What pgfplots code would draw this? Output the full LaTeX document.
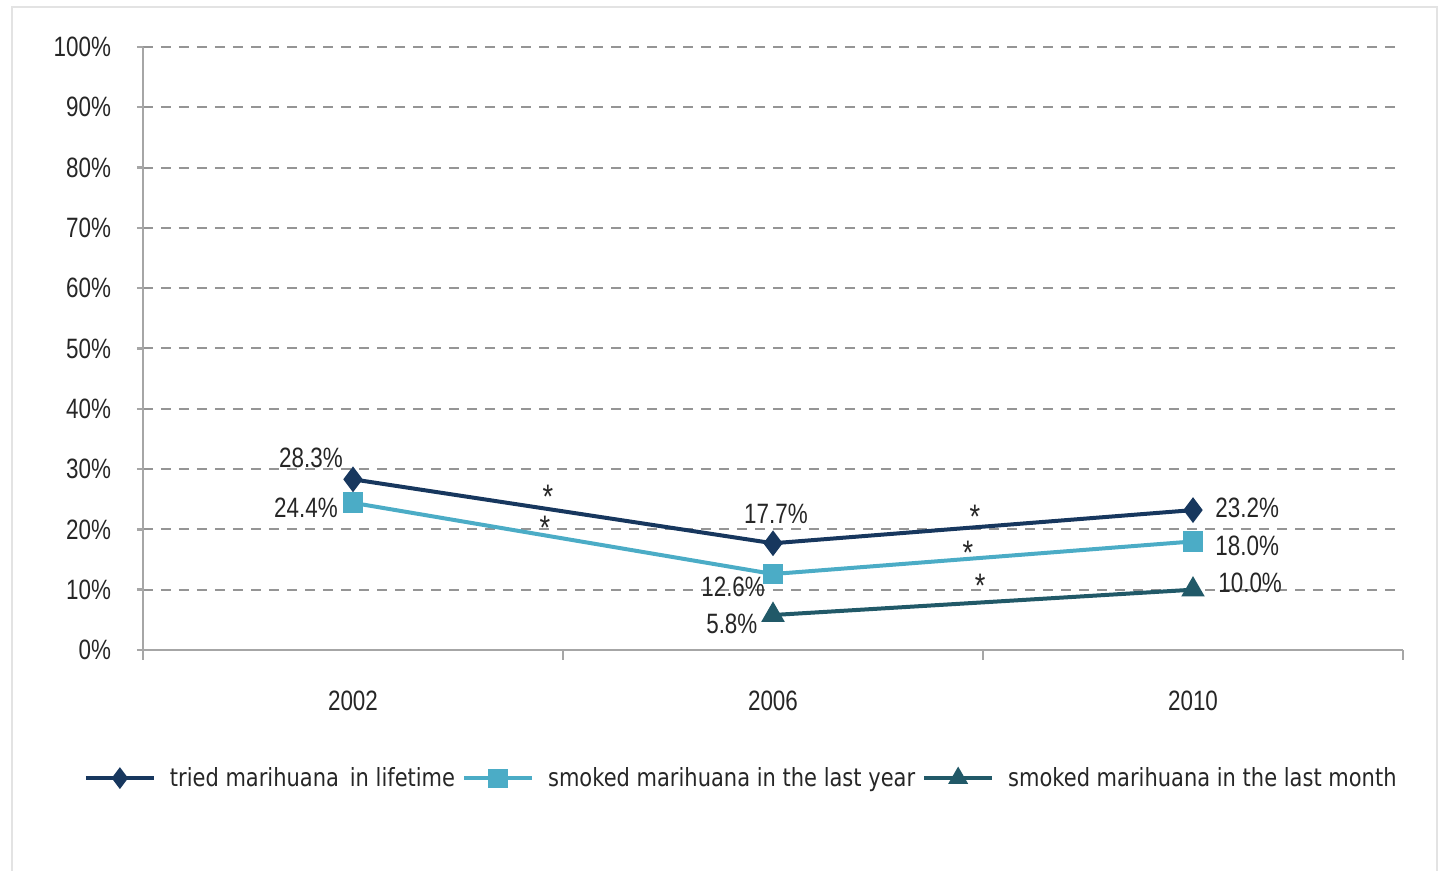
\documentclass[border=0pt]{standalone}
\usepackage{pgfplots}
\pgfplotsset{compat=1.18}
\usepackage{fontspec}
\setmainfont[FakeStretch=0.8]{Liberation Sans}
\newfontfamily\legfont[FakeStretch=0.84]{DejaVu Sans}
\definecolor{cA}{HTML}{17375E}
\definecolor{cB}{HTML}{4BACC6}
\definecolor{cC}{HTML}{215968}
\definecolor{gridc}{HTML}{959595}
\definecolor{axc}{HTML}{A6A6A6}
\definecolor{txt}{HTML}{262626}
\begin{document}
\begin{tikzpicture}
\begin{axis}[
  scale only axis, width=630pt, height=301.5pt,
  xmin=-0.5, xmax=2.5, ymin=0, ymax=100,
  axis x line*=bottom, axis y line*=left,
  axis line style={-, axc, line width=1.2pt},
  xtick={0,1,2}, xticklabels={2002,2006,2010},
  minor xtick={-0.5,0.5,1.5,2.5},
  ytick={0,10,...,100},
  yticklabels={0\%,10\%,20\%,30\%,40\%,50\%,60\%,70\%,80\%,90\%,100\%},
  tick align=outside,
  major tick length=3pt, minor tick length=5pt,
  tick style={axc, line width=1.2pt},
  major x tick style={draw=none},
  ymajorgrids, xmajorgrids=false,
  grid style={gridc, dash pattern=on 5pt off 4pt, line width=1pt},
  ticklabel style={font=\fontsize{14}{16}\selectfont, text=txt},
  yticklabel style={xshift=-9.5pt},
  xticklabel style={yshift=-14pt},
  legend style={at={(0.474,-0.2125)}, anchor=center, draw=none, fill=none,
    legend columns=3, font=\legfont\fontsize{12.5}{14}\selectfont, text=txt,
    nodes={inner xsep=0pt},
    /tikz/every even column/.append style={column sep=3.5pt},
    /tikz/every odd column/.append style={column sep=7pt}},
  legend cell align=left,
  legend image code/.code={\draw[mark repeat=2,mark phase=2,mark size=3.8pt] plot coordinates {(0pt,0pt) (17pt,0pt) (34pt,0pt)};},
  clip=false,
]
\addplot[cA, line width=2pt, mark=diamond*, mark size=4.8pt, mark options={solid}] coordinates {(0,28.3) (1,17.7) (2,23.2)};
\addlegendentry{tried marihuana\, in lifetime}
\addplot[cB, line width=2pt, mark=square*, mark size=4.2pt, mark options={solid}] coordinates {(0,24.4) (1,12.6) (2,18.0)};
\addlegendentry{smoked marihuana in the last year}
\addplot[cC, line width=2pt, mark=triangle*, mark size=4.8pt, mark options={solid}] coordinates {(1,5.8) (2,10.0)};
\addlegendentry{smoked marihuana in the last month}
\coordinate (O) at (rel axis cs:0,0);
\begin{scope}[every node/.style={font=\fontsize{14}{16}\selectfont, text=txt, inner sep=0pt}]
\node at (axis cs:-0.100,31.84) {28.3\%};
\node at (axis cs:-0.112,23.55) {24.4\%};
\node at (axis cs:1.007,22.55) {17.7\%};
\node at (axis cs:0.905,10.45) {12.6\%};
\node at (axis cs:0.902,4.31) {5.8\%};
\node at (axis cs:2.129,23.55) {23.2\%};
\node at (axis cs:2.129,17.25) {18.0\%};
\node at (axis cs:2.136,11.11) {10.0\%};
\end{scope}
\begin{scope}[every node/.style={font=\fontsize{17}{18}\selectfont, text=txt, inner sep=0pt}]
\node at (axis cs:0.464,25.4) {*};
\node at (axis cs:0.457,20.2) {*};
\node at (axis cs:1.481,22.1) {*};
\node at (axis cs:1.464,16.2) {*};
\node at (axis cs:1.493,10.6) {*};
\end{scope}
\end{axis}
\pgfresetboundingbox
\path[use as bounding box] (O) ++(-71.5pt,-110.5pt) rectangle ++(719.5pt,435.5pt);
\draw[gray!22, line width=0.8pt] (O) ++(-65.5pt,-112pt) -- ++(0,433.5pt) -- ++(712.5pt,0) -- ++(0,-433.5pt);
\end{tikzpicture}
\end{document}
